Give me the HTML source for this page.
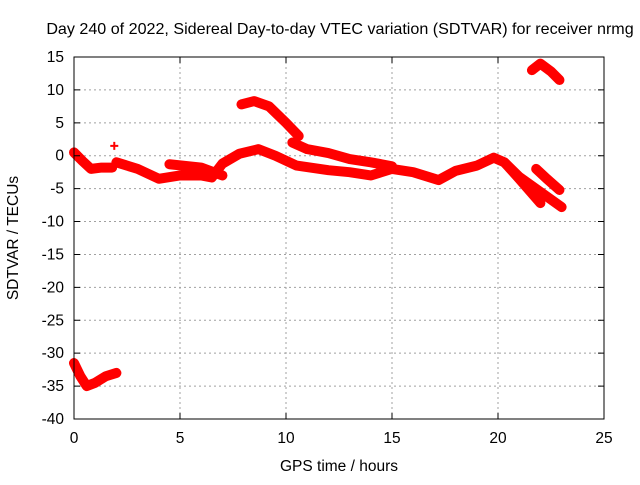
<!DOCTYPE html>
<html><head><meta charset="utf-8"><style>
body{margin:0;background:#fff}
svg text{font-family:"Liberation Sans",sans-serif;font-size:15.5px;fill:#000}
</style></head><body>
<svg width="640" height="480" viewBox="0 0 640 480">
<text x="340" y="34" text-anchor="middle" style="font-size:16.1px">Day 240 of 2022, Sidereal Day-to-day VTEC variation (SDTVAR) for receiver nrmg</text>
<g id="grid"></g>
<g id="marks"></g>
<rect x="74" y="57" width="530" height="362" fill="none" stroke="#000" stroke-width="1"/>
<g id="axes"></g>
<text x="339" y="471" text-anchor="middle">GPS time / hours</text>
<text transform="translate(18,238) rotate(-90)" text-anchor="middle">SDTVAR / TECUs</text>
</svg>
<script>
const xTicks=[0,5,10,15,20,25];
const yTicks=[15,10,5,0,-5,-10,-15,-20,-25,-30,-35,-40];
const trackMorning=[[0,0.5],[0.4,-0.8],[0.8,-2],[1.3,-1.8],[1.8,-1.8]];
const trackMain=[[2,-1],[3,-2],[4,-3.5],[5,-3],[6,-3],[6.5,-3.3],[7,-1.2],[7.8,0.3],[8.7,1],[9.5,0],[10.5,-1.5],[12,-2.2],[13,-2.5],[14,-3],[15,-2],[16,-2.5],[17.2,-3.7],[18,-2.3],[19,-1.5],[19.8,-0.3],[20.3,-1],[21,-3.2],[22,-5.5],[23,-7.8]];
const trackUpperA=[[4.5,-1.3],[6,-1.8],[7,-3]];
const trackUpperB=[[10.3,2],[11,1],[12,0.4],[13,-0.5],[14,-1],[15,-1.6]];
const trackLate=[[20.3,-1],[21,-3.5],[22,-7.2]];
const trackBranch=[[21.8,-2],[22.3,-3.5],[22.9,-5.2]];
const trackArc=[[7.9,7.8],[8.5,8.3],[9.2,7.5],[10,5],[10.6,3]];
const trackTopRight=[[21.6,13],[22,14],[22.5,12.8],[22.9,11.5]];
const trackBottom=[[0,-31.5],[0.3,-33.5],[0.6,-35],[1,-34.5],[1.5,-33.5],[2,-33]];
const lonePoints=[[1.9,1.5]];
const tracks=[trackMorning,trackMain,trackUpperA,trackUpperB,trackLate,trackBranch,trackArc,trackTopRight,trackBottom];
const NS="http://www.w3.org/2000/svg";
const X=h=>74+h*530/25, Y=v=>57+(15-v)*362/55;
const grid=document.getElementById('grid'),axes=document.getElementById('axes'),marks=document.getElementById('marks');
function mk(tag,at,parent){const e=document.createElementNS(NS,tag);for(const k in at)e.setAttribute(k,at[k]);parent.appendChild(e);return e;}
xTicks.forEach(t=>{const x=X(t);
 if(t>0&&t<25){const g=mk('line',{x1:x,x2:x,y1:57,y2:419,stroke:'#a0a0a0','stroke-dasharray':'2,3'},grid);
 
 }
 const a=mk('path',{d:`M${x},419v-6M${x},57v6`,stroke:'#000'},axes);
 
 
 const l=mk('text',{x:x,y:443,'text-anchor':'middle'},axes);l.textContent=t;
 
 });
yTicks.forEach(t=>{const y=Y(t);
 if(t<15&&t>-40){const g=mk('line',{x1:74,x2:604,y1:y,y2:y,stroke:'#a0a0a0','stroke-dasharray':'2,3'},grid);
 
 }
 const a=mk('path',{d:`M74,${y}h6M604,${y}h-6`,stroke:'#000'},axes);
 
 
 const l=mk('text',{x:64,y:y+5,'text-anchor':'end'},axes);l.textContent=t;
 
 });
tracks.forEach(tr=>{
 const p=mk('polyline',{points:tr.map(d=>X(d[0])+','+Y(d[1])).join(' '),fill:'none',stroke:'#ff0000','stroke-width':10,'stroke-linejoin':'round','stroke-linecap':'round'},marks);
 
 });
lonePoints.forEach(d=>{
 const p=mk('path',{d:`M${X(d[0])-4},${Y(d[1])}h8M${X(d[0])},${Y(d[1])-4}v8`,stroke:'#ff0000','stroke-width':2},marks);
 
 });
</script>
</body></html>
